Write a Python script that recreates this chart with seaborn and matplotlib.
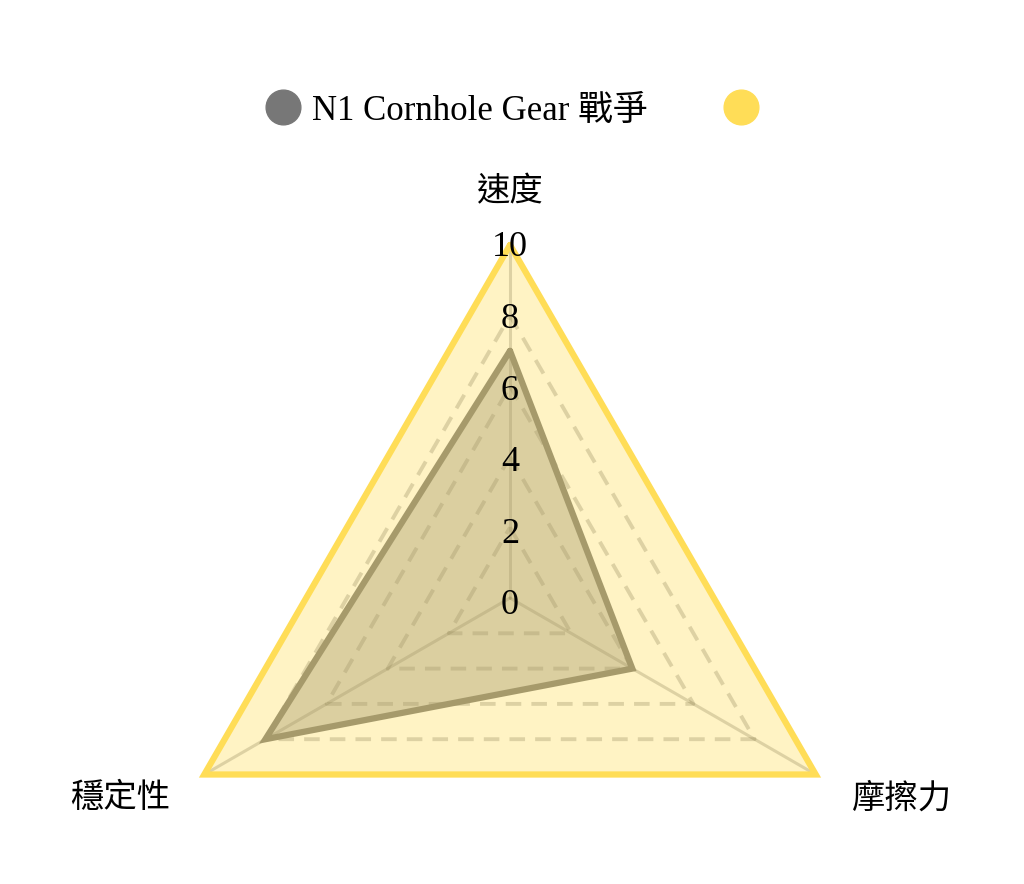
import numpy as np
import seaborn as sns
import matplotlib.pyplot as plt
from matplotlib.lines import Line2D

categories = ['速度', '摩擦力', '穩定性']
n1_values = [7, 4, 8]
max_values = [10, 10, 10]
series_names = ['N1 Cornhole Gear 戰爭', '']
tick_values = [0, 2, 4, 6, 8, 10]

gray = '#777777'
yellow = '#FFDD57'

sns.set_theme(style='white')
plt.rcParams['font.family'] = ['Liberation Serif', 'Noto Sans CJK TC', 'DejaVu Sans']
plt.rcParams['text.color'] = 'black'

fig = plt.figure(figsize=(10.24, 8.84), dpi=100)
# polar axes placed so the centre sits at (510, 598) px with radius 353 px
ax = fig.add_axes([157 / 1024, (884 - 951) / 884, 706 / 1024, 706 / 884], projection='polar')
ax.set_theta_offset(np.pi / 2)
ax.set_theta_direction(-1)
ax.set_ylim(0, 10)
ax.grid(False)
ax.spines['polar'].set_visible(False)
ax.set_xticks([])
ax.set_yticks([])
ax.patch.set_alpha(0)

theta = np.linspace(0, 2 * np.pi, len(categories), endpoint=False)
theta_closed = np.append(theta, 2 * np.pi)

# dashed grid triangles
for v in tick_values[1:-1]:
    ax.plot(theta_closed, [v] * len(theta_closed), color='black', alpha=0.2,
            lw=2.8, ls=(0, (4, 2.6)), zorder=1)
# radial spokes
for t in theta:
    ax.plot([t, t], [0, tick_values[-1]], color='black', alpha=0.2, lw=2.2, zorder=1)

# N1 series
n1_closed = np.append(n1_values, n1_values[0])
ax.fill(theta_closed, n1_closed, color=gray, alpha=0.4, lw=0, zorder=2)
sns.lineplot(x=theta_closed, y=n1_closed, sort=False, estimator=None, color=gray,
             lw=4.5, ax=ax, zorder=3, legend=False)

# max series on top
max_closed = np.append(max_values, max_values[0])
ax.fill(theta_closed, max_closed, color=yellow, alpha=0.35, lw=0, zorder=4)
sns.lineplot(x=theta_closed, y=max_closed, sort=False, estimator=None, color=yellow,
             lw=4.5, ax=ax, zorder=5, legend=False)
for ln in ax.lines:
    ln.set_clip_on(False)
    ln.set_solid_joinstyle('miter')
ax.set_xlabel('')
ax.set_ylabel('')

# tick labels spread a touch wider than the grid, as in the reference
for v in tick_values:
    ax.annotate(str(v), xy=(0, v), xytext=(0, -4 + 0.5 * v), textcoords='offset pixels',
                ha='center', va='center_baseline', fontsize=26, color='black',
                zorder=6, annotation_clip=False)

label_offsets = [((0, 52), 'center'), ((36, -24), 'left'), ((-34, -24), 'right')]
for t, cat, (off, ha) in zip(theta, categories, label_offsets):
    ax.annotate(cat, xy=(t, 10), xytext=off, textcoords='offset pixels',
                ha=ha, va='center', fontsize=24, color='black', annotation_clip=False)

handles = [Line2D([], [], ls='none', marker='o', markersize=25, color=gray),
           Line2D([], [], ls='none', marker='o', markersize=25, color=yellow)]
leg = fig.legend(handles, series_names, loc='center', bbox_to_anchor=(0.5054, 1 - 111 / 884),
                 ncol=2, frameon=False, fontsize=25, handlelength=1.0, handletextpad=0.32,
                 columnspacing=2.2)
for txt in leg.get_texts():
    txt.set_color('black')

fig.savefig('out.png', dpi=100)
